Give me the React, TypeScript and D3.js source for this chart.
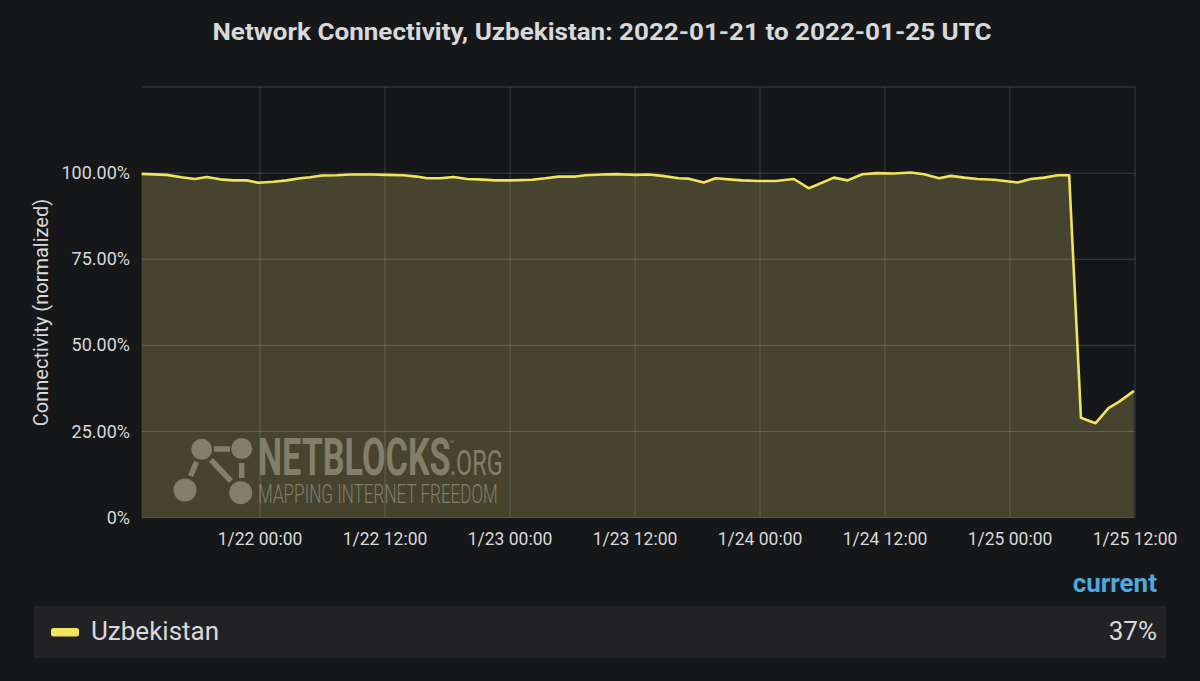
import React from "react";
import * as d3 from "d3";

// ---- data (hours since 2022-01-22 00:00 UTC, connectivity %) ----
const hoursFromJan22: number[] = [
  -11.37, -8.97, -7.53, -6.25, -5.12, -3.84, -2.59, -1.28, -0.16, 1.28,
  2.57, 3.84, 4.81, 5.93, 7.37, 8.65, 10.86, 12.18, 13.77, 15.06,
  16.02, 17.3, 18.58, 19.87, 20.98, 22.59, 24.19, 26.11, 27.39, 28.67,
  30.27, 31.24, 32.84, 34.44, 36.04, 37.32, 38.61, 40.2, 41.16, 42.61,
  43.73, 45.01, 46.3, 47.89, 49.5, 51.25, 52.7, 55.1, 56.39, 57.83,
  59.27, 60.87, 62.47, 63.75, 65.19, 66.31, 67.59, 68.88, 70.48, 72.73,
  74.0, 75.28, 76.57, 77.68, 78.81, 80.2, 81.45, 82.49, 83.9,
];
const connectivity: number[] = [
  99.8, 99.5, 98.8, 98.3, 98.9, 98.2, 97.9, 97.9, 97.2, 97.5,
  97.9, 98.5, 98.8, 99.3, 99.4, 99.6, 99.6, 99.5, 99.4, 99.0,
  98.5, 98.5, 98.9, 98.3, 98.2, 97.9, 97.9, 98.1, 98.5, 99.0,
  99.0, 99.4, 99.6, 99.7, 99.5, 99.6, 99.2, 98.5, 98.4, 97.3,
  98.5, 98.2, 97.9, 97.7, 97.7, 98.3, 95.6, 98.7, 97.9, 99.7,
  100.0, 99.9, 100.2, 99.7, 98.5, 99.2, 98.7, 98.3, 98.1, 97.3,
  98.3, 98.7, 99.4, 99.4, 29.0, 27.4, 31.8, 33.7, 36.8,
];
const yTicks: number[] = [0, 25, 50, 75, 100];
const yGridTop = 125;
const seriesName = "Uzbekistan";
const currentLabel = "37%";
const title = "Network Connectivity, Uzbekistan: 2022-01-21 to 2022-01-25 UTC";
const yAxisTitle = "Connectivity (normalized)";
const domainStart = new Date(Date.UTC(2022, 0, 21, 12, 40));
const domainEnd = new Date(Date.UTC(2022, 0, 25, 12, 0));
const base = Date.UTC(2022, 0, 22, 0, 0);

// ---- layout ----
const W = 1200;
const H = 681;
const left = 142;
const right = 1135;
const top = 87;
const bottom = 517.7;

const BG = "#161719";
const TEXT = "#d8d9da";
const LINE = "#f2e35c";
const FILL = "#46432f";
const WM = "#b2b09a";

export default function App() {
  const data = hoursFromJan22.map((h, i) => ({
    t: new Date(base + h * 3600 * 1000),
    v: connectivity[i],
  }));
  const x = d3.scaleUtc().domain([domainStart, domainEnd]).range([left, right]);
  const y = d3.scaleLinear().domain([0, yGridTop]).range([bottom, top]);
  const xTicks = x.ticks(d3.utcHour.every(12) as any);
  const fmt = d3.utcFormat("%-m/%d %H:%M");
  const line = d3
    .line<{ t: Date; v: number }>()
    .x((d) => x(d.t))
    .y((d) => y(d.v));
  const area = d3
    .area<{ t: Date; v: number }>()
    .x((d) => x(d.t))
    .y0(y(0))
    .y1((d) => y(d.v));
  const grid = "rgba(255,255,255,0.17)";

  return (
    <svg
      width={W}
      height={H}
      style={{ position: "absolute", left: 0, top: 0, display: "block" }}
      fontFamily="Roboto, 'Noto Sans', sans-serif"
    >
      <rect x={0} y={0} width={W} height={H} fill={BG} />
      <text
        x={602}
        y={40}
        textAnchor="middle"
        fill={TEXT}
        fontSize={23}
        fontWeight={700}
        textLength={779}
        lengthAdjust="spacingAndGlyphs"
      >
        {title}
      </text>

      {/* fill */}
      <path d={area(data) || ""} fill={FILL} />

      {/* grid */}
      {[...yTicks, yGridTop].map((t) => (
        <line key={"gy" + t} x1={left} x2={right} y1={y(t)} y2={y(t)} stroke={grid} strokeWidth={1} />
      ))}
      {xTicks.map((t) => (
        <line key={"gx" + t.getTime()} x1={x(t)} x2={x(t)} y1={top} y2={bottom} stroke={grid} strokeWidth={1} />
      ))}

      {/* watermark */}
      <g opacity={0.55}>
        <g fill={WM}>
          <circle cx={201.7} cy={449.3} r={10.5} />
          <circle cx={241.7} cy={448.5} r={10.5} />
          <circle cx={185} cy={490} r={11.5} />
          <circle cx={240.7} cy={492.7} r={11.5} />
        </g>
        <g stroke={WM} strokeWidth={5.5}>
          <line x1={214} y1={449} x2={230} y2={449} />
          <line x1={196.5} y1={462} x2={190.5} y2={476} />
          <line x1={211} y1={460} x2={231} y2={481} />
          <line x1={241.7} y1={463} x2={241.7} y2={478} />
        </g>
        <text transform="translate(258,475) scale(0.67,1)" fill={WM}>
          <tspan fontSize={51} fontWeight={700}>NETBLOCKS</tspan>
          <tspan fontSize={11} dy={-27} dx={-2}>™</tspan>
          <tspan fontSize={35} fontWeight={400} dy={27} dx={-6}>.ORG</tspan>
          <tspan x={0} dy={28} fontSize={25} fontWeight={300} textLength={358} lengthAdjust="spacingAndGlyphs">
            MAPPING INTERNET FREEDOM
          </tspan>
        </text>
      </g>

      {/* line */}
      <path d={line(data) || ""} fill="none" stroke={LINE} strokeWidth={2.6} strokeLinejoin="round" />

      {/* y axis labels */}
      {yTicks.map((t) => (
        <text key={"yl" + t} x={130} y={y(t) + 6} textAnchor="end" fill={TEXT} fontSize={18}>
          {t === 0 ? "0%" : t.toFixed(2) + "%"}
        </text>
      ))}
      <text
        transform={`translate(48, 312.5) rotate(-90)`}
        textAnchor="middle"
        fill={TEXT}
        fontSize={20}
      >
        {yAxisTitle}
      </text>

      {/* x axis labels */}
      {xTicks.map((t) => (
        <text key={"xl" + t.getTime()} x={x(t)} y={545} textAnchor="middle" fill={TEXT} fontSize={17.5}>
          {fmt(t)}
        </text>
      ))}

      {/* legend */}
      <text x={1157} y={592} textAnchor="end" fill="#4fa9de" fontSize={26} fontWeight={700}>
        current
      </text>
      <rect x={34} y={606} width={1132} height={52} fill="#222224" />
      <rect x={51} y={628} width={28} height={8.5} rx={2.5} fill={LINE} />
      <text x={91} y={640} fill={TEXT} fontSize={26}>
        {seriesName}
      </text>
      <text x={1157} y={640} textAnchor="end" fill={TEXT} fontSize={26}>
        {currentLabel}
      </text>
    </svg>
  );
}
